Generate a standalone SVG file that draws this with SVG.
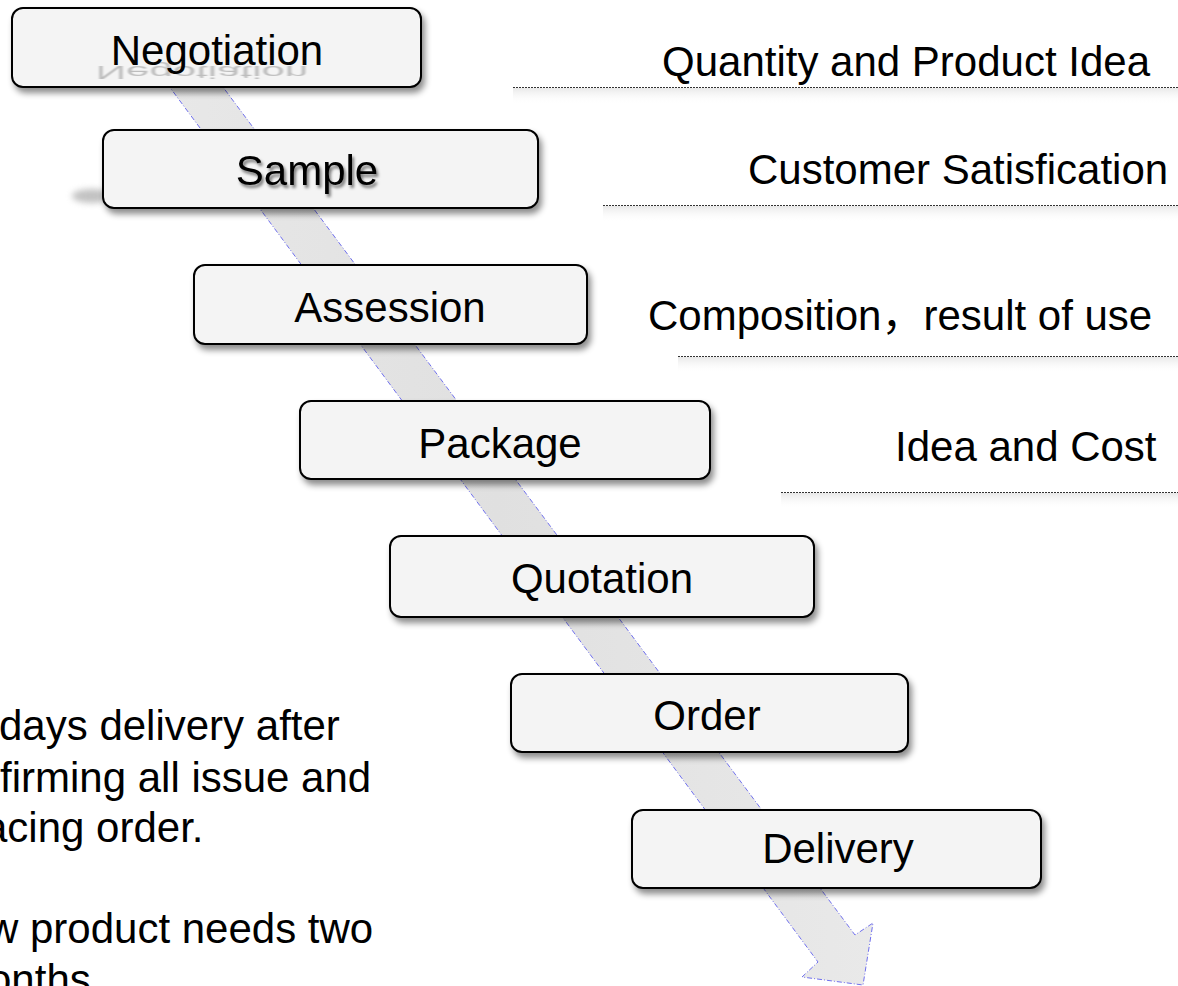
<svg xmlns="http://www.w3.org/2000/svg" width="1178" height="986" viewBox="0 0 1178 986">
<defs>
  <filter id="boxShadow" x="-10%" y="-20%" width="130%" height="160%">
    <feDropShadow dx="3" dy="5" stdDeviation="3" flood-color="#000" flood-opacity="0.45"/>
  </filter>
  <filter id="txtShadow" x="-10%" y="-30%" width="130%" height="170%">
    <feDropShadow dx="2" dy="3" stdDeviation="1.5" flood-color="#000" flood-opacity="0.5"/>
  </filter>
  <filter id="blur3" x="-50%" y="-100%" width="200%" height="300%">
    <feGaussianBlur stdDeviation="3"/>
  </filter>
  <filter id="blur2" x="-20%" y="-50%" width="140%" height="200%">
    <feGaussianBlur stdDeviation="1.2"/>
  </filter>
  <linearGradient id="lineShade" x1="0" y1="0" x2="0" y2="1">
    <stop offset="0" stop-color="#e8e8e8"/>
    <stop offset="1" stop-color="#ffffff" stop-opacity="0"/>
  </linearGradient>
  <linearGradient id="arrowFill" x1="0" y1="0" x2="1" y2="0">
    <stop offset="0" stop-color="#e9e9e9"/>
    <stop offset="0.5" stop-color="#e0e0e0"/>
    <stop offset="1" stop-color="#e9e9e9"/>
  </linearGradient>
</defs>
<style>
  .box { fill: #f4f4f4; stroke: #000; stroke-width: 2; }
  .lbl { font-family: "Liberation Sans", Arial, sans-serif; font-size: 42px; fill: #000; }
  .note { font-family: "Liberation Sans", "Noto Sans CJK SC", Arial, sans-serif; font-size: 42px; fill: #000; }
  .rule { stroke: #333; stroke-width: 1; stroke-dasharray: 2 1; }
  .arrow { fill: url(#arrowFill); stroke: #7070ee; stroke-width: 1; stroke-dasharray: 5 2 1 2; }
</style>

<g id="connectors">
  <polygon class="arrow" points="120,20 173,20 855,935 873,923 863,985 802,977 818,962"/>
</g>

<g id="annotations">
  <rect x="513" y="88" width="665" height="16" fill="url(#lineShade)"/>
  <line class="rule" x1="513" y1="87.5" x2="1178" y2="87.5"/>
  <text class="note" x="662" y="76">Quantity and Product Idea</text>

  <rect x="603" y="206" width="575" height="16" fill="url(#lineShade)"/>
  <line class="rule" x1="603" y1="205.5" x2="1178" y2="205.5"/>
  <text class="note" x="748" y="184">Customer Satisfication</text>

  <rect x="678" y="357" width="500" height="16" fill="url(#lineShade)"/>
  <line class="rule" x1="678" y1="356.5" x2="1178" y2="356.5"/>
  <text class="note" x="648" y="330">Composition，result of use</text>

  <rect x="781" y="493" width="397" height="16" fill="url(#lineShade)"/>
  <line class="rule" x1="781" y1="492.5" x2="1178" y2="492.5"/>
  <text class="note" x="895" y="461">Idea and Cost</text>
</g>

<g id="node-negotiation">
  <rect class="box" x="12" y="8" width="409" height="79" rx="11" filter="url(#boxShadow)"/>
  <text class="lbl" x="202" y="66" text-anchor="middle" transform="translate(0,66) scale(1,-0.42) translate(0,-66)" opacity="0.22" filter="url(#blur2)">Negotiation</text>
  <text class="lbl" x="217" y="65" text-anchor="middle">Negotiation</text>
</g>

<g id="node-sample">
  <ellipse cx="92" cy="196" rx="20" ry="7" fill="#999" opacity="0.6" filter="url(#blur3)"/>
  <rect class="box" x="103" y="130" width="435" height="78" rx="11" filter="url(#boxShadow)"/>
  <text class="lbl" x="307" y="185" text-anchor="middle" filter="url(#txtShadow)">Sample</text>
</g>

<g id="node-assession">
  <rect class="box" x="194" y="265" width="393" height="79" rx="11" filter="url(#boxShadow)"/>
  <text class="lbl" x="390" y="322" text-anchor="middle">Assession</text>
</g>

<g id="node-package">
  <rect class="box" x="300" y="401" width="410" height="78" rx="11" filter="url(#boxShadow)"/>
  <text class="lbl" x="500" y="458" text-anchor="middle">Package</text>
</g>

<g id="node-quotation">
  <rect class="box" x="390" y="536" width="424" height="81" rx="11" filter="url(#boxShadow)"/>
  <text class="lbl" x="602" y="593" text-anchor="middle">Quotation</text>
</g>

<g id="node-order">
  <rect class="box" x="511" y="674" width="397" height="78" rx="11" filter="url(#boxShadow)"/>
  <text class="lbl" x="707" y="730" text-anchor="middle">Order</text>
</g>

<g id="node-delivery">
  <rect class="box" x="632" y="810" width="409" height="78" rx="11" filter="url(#boxShadow)"/>
  <text class="lbl" x="838" y="863" text-anchor="middle">Delivery</text>
</g>

<g id="left-notes">
  <text class="note" x="-1" y="740">days delivery after</text>
  <text class="note" x="0" y="792">firming all issue and</text>
  <text class="note" x="-16" y="842">acing order.</text>
  <text class="note" x="-12" y="943">w product needs two</text>
  <text class="note" x="-12" y="994">onths</text>
</g>
</svg>
